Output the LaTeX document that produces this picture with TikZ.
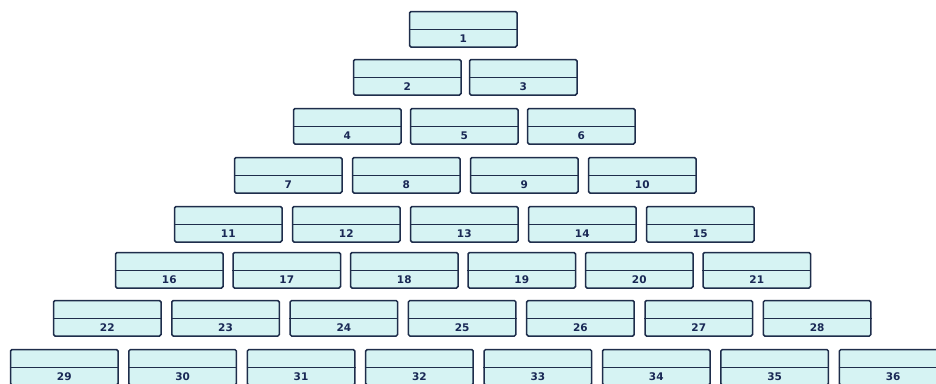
\documentclass[tikz,border=0pt]{standalone}
\usepackage{fontspec}
\setmainfont{Liberation Sans}
\newfontfamily\numfont{DejaVu Sans}
\usetikzlibrary{calc}
\definecolor{boxfill}{RGB}{214,243,243}
\definecolor{boxline}{RGB}{30,45,75}
\definecolor{numtext}{RGB}{25,40,85}
\tikzset{
  cell/.style={draw=boxline, fill=boxfill, line width=1.5pt, rounded corners=1.5pt,
    minimum width=107.5pt, minimum height=35.5pt, inner sep=0pt, anchor=north west},
  divider/.style={draw=boxline, line width=1.4pt},
  num/.style={font=\numfont\bfseries\fontsize{10.5}{10.5}\selectfont, text=numtext, inner sep=0pt},
}
\begin{document}
\begin{tikzpicture}[x=1pt,y=-1pt]
\useasboundingbox (0,0) rectangle (936,383);
\clip (0,0) rectangle (936,383);
\foreach \r/\lft/\tp/\pitch in {1/408/10/118, 2/352/58/116, 3/292/107/117, 4/233/156/118,
    5/173/205/118, 6/114/251/117.5, 7/52/299/118.3, 8/9/348/118.4} {
  \pgfmathtruncatemacro\first{\r*(\r-1)/2}
  \foreach \k in {1,...,\r} {
    \pgfmathtruncatemacro\n{\first+\k}
    \node[cell] (b\n) at ({\lft+(\k-1)*\pitch+0.75},{\tp+0.75}) {};
    \draw[divider] (b\n.west) -- (b\n.east);
    \node[num] (t\n) at ($(b\n.center)!0.5!(b\n.south)$) {\n};
  }
}
\end{tikzpicture}
\end{document}
